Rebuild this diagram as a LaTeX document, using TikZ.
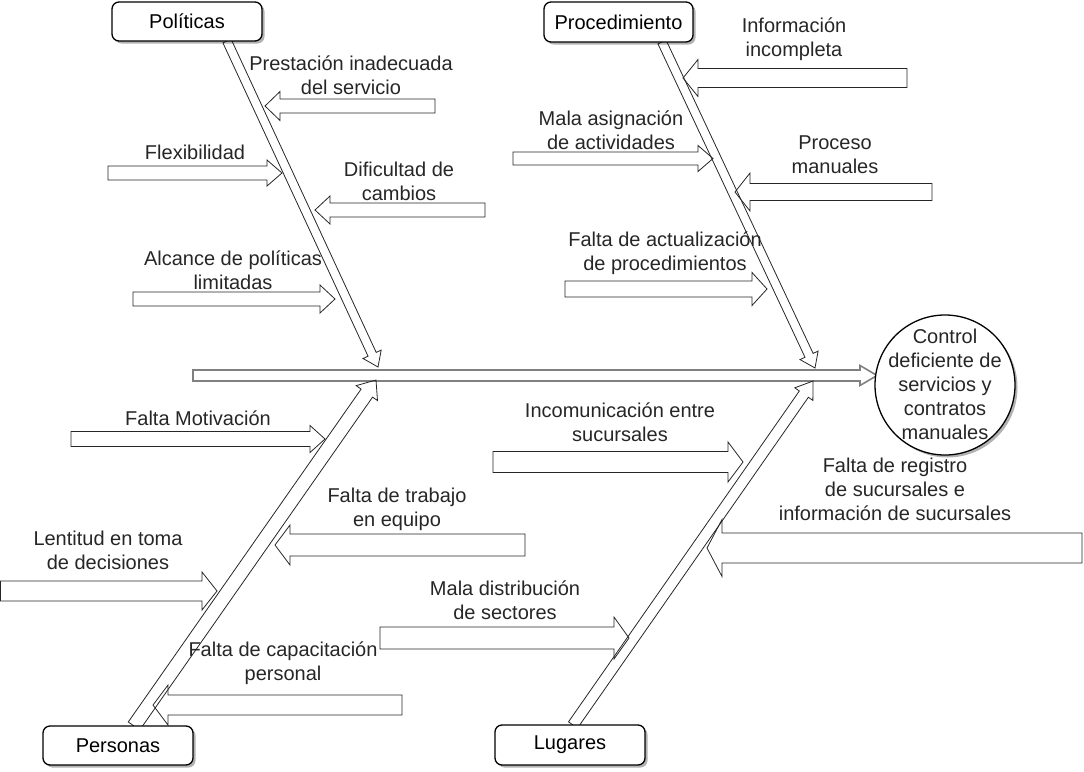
\documentclass[tikz,border=0pt]{standalone}
\usepackage{fontspec}
\setmainfont{Liberation Sans}
\usetikzlibrary{calc,shadows}

\tikzset{
	caja/.style={draw=black, rounded corners=7pt, line width=1.3pt, fill=white,
		minimum width=150pt, minimum height=39pt, inner sep=0pt,
		drop shadow={shadow xshift=2.5pt, shadow yshift=-2.5pt, fill=black, opacity=.3}},
	efecto/.style={circle, draw=black, line width=1.3pt, fill=white, minimum size=140pt, inner sep=0pt,
		drop shadow={shadow xshift=2.5pt, shadow yshift=-2.5pt, fill=black, opacity=.3}},
	texto/.style={align=center, inner sep=0pt, text=black!85},
	flecha/.style={draw=black!85, line width=0.8pt, line join=miter},
	espina/.style={draw=black!50, line width=1.6pt, line join=miter},
}

% flecha de bloque: [estilo]{desde}{hasta}{medio ancho}{medio ancho punta}{largo punta}
\newcommand{\bloque}[6][flecha]{%
	\coordinate (fb) at ($(#3)!#6pt!(#2)$);
	\draw[#1] ($(#2)!#4pt!90:(#3)$) -- ($(fb)!#4pt!90:(#3)$) -- ($(fb)!#5pt!90:(#3)$) -- (#3)
		-- ($(fb)!#5pt!-90:(#3)$) -- ($(fb)!#4pt!-90:(#3)$) -- ($(#2)!#4pt!-90:(#3)$) -- cycle;
}

\begin{document}
\begin{tikzpicture}[x=1pt, y=-1pt, every node/.style={font=\fontsize{20}{24}\selectfont}]
	\useasboundingbox (0,0) rectangle (1084,771);
	
	% espina y huesos
	\coordinate (cola) at (193,375.5);
	\coordinate (cabeza) at (877,375.5);
	\bloque[espina]{cola}{cabeza}{5.5}{10}{17}
	
	\coordinate (pol0) at (227,41);    \coordinate (pol1) at (378,367);
	\coordinate (pro0) at (662,42);    \coordinate (pro1) at (815,368);
	\coordinate (per0) at (134,726);   \coordinate (per1) at (376,380);
	\coordinate (lug0) at (573,725);   \coordinate (lug1) at (813,381);
	\bloque{pol0}{pol1}{4.5}{10}{14}
	\bloque{pro0}{pro1}{4.5}{10}{14}
	\bloque{per0}{per1}{7}{13}{16}
	\bloque{lug0}{lug1}{5.5}{11}{16}
	
	% causas
	\foreach \xa/\xb/\y/\s/\h [count=\i] in {
		435/265/106/7/14.5, 108/282/173/7/13, 485/315/210/7/14, 133/335/299/7/14,
		907/683/78/9.5/18.5, 513/713/158.5/6.5/13, 932/735/192/8.5/19, 565/767/289/8/16.5,
		71/325/439/7.5/13.5, 525/275/545/11/20, 0.5/217/591/10/19, 402/153/705/10/20,
		493/743/462/10.5/20, 1082/707/548/15/28.5, 380/629/638/11/21}{
		\coordinate (c\i a) at (\xa,\y);
		\coordinate (c\i b) at (\xb,\y);
		\bloque{c\i a}{c\i b}{\s}{\h}{15}
	}
	
	% categorias
	\node[caja] (politicas) at (187,21.5) {Políticas};
	\node[caja, minimum width=149pt, minimum height=40pt] (procedimiento) at (618.5,22) {Procedimiento};
	\node[caja] (personas) at (118,745.5) {Personas};
	\node[caja, minimum height=40pt] (lugares) at (570,745) {Lugares};
	
	\node[efecto] (problema) at (945,385) {};
	\node[texto] (problematxt) at (945,384) {Control\\deficiente de\\servicios y\\contratos\\manuales};
	
	% textos
	\node[texto] (t1) at (351,75) {Prestación inadecuada\\del servicio};
	\node[texto] (t2) at (195,152) {Flexibilidad};
	\node[texto] (t3) at (399,181) {Dificultad de\\cambios};
	\node[texto] (t4) at (233,270) {Alcance de políticas\\limitadas};
	\node[texto] (t5) at (794,39) {Información\\incompleta};
	\node[texto] (t6) at (611,130) {Mala asignación\\de actividades};
	\node[texto] (t7) at (835,155) {Proceso\\manuales};
	\node[texto] (t8) at (665,253) {Falta de actualización\\de procedimientos};
	\node[texto] (t9) at (198,418) {Falta Motivación};
	\node[texto] (t10) at (397,509) {Falta de trabajo\\en equipo};
	\node[texto] (t11) at (108,550) {Lentitud en toma\\de decisiones};
	\node[texto] (t12) at (283,663) {Falta de capacitación\\personal};
	\node[texto] (t13) at (620,422) {Incomunicación entre\\sucursales};
	\node[texto] (t14) at (895,489) {Falta de registro\\de sucursales e\\información de sucursales};
	\node[texto] (t15) at (505,600) {Mala distribución\\de sectores};
\end{tikzpicture}
\end{document}
